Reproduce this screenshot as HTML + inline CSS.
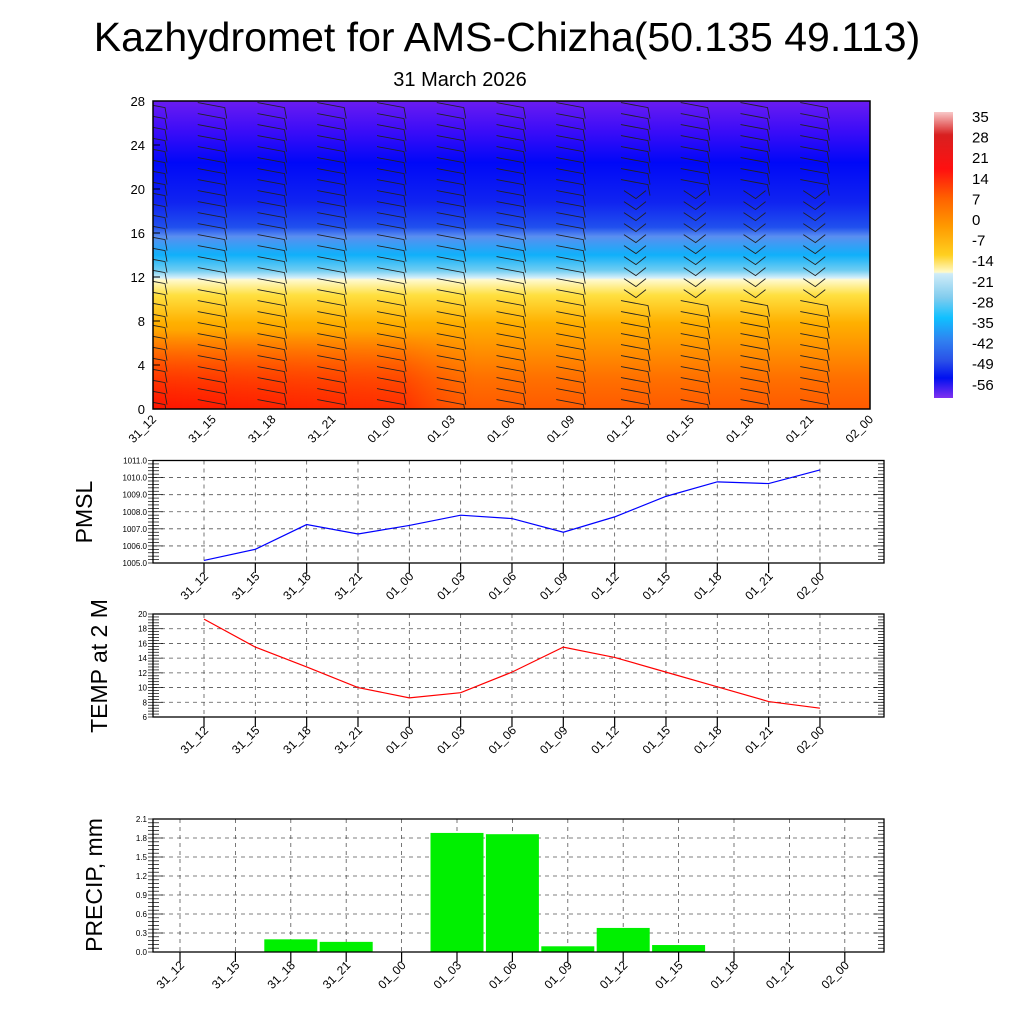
<!DOCTYPE html>
<html><head><meta charset="utf-8"><style>
body{margin:0;background:#fff}
svg text{font-family:"Liberation Sans",sans-serif}
</style></head><body>
<svg id="s" width="1024" height="1024" viewBox="0 0 1024 1024" xmlns="http://www.w3.org/2000/svg">
<defs>
<clipPath id="plotclip"><rect x="153" y="101" width="717" height="308"/></clipPath>
<linearGradient id="vg" x1="0" y1="0" x2="0" y2="1">
<stop offset="0" stop-color="#6a1cf2"/>
<stop offset="0.1" stop-color="#3a0cf8"/>
<stop offset="0.2" stop-color="#0008f8"/>
<stop offset="0.33" stop-color="#1024f0"/>
<stop offset="0.41" stop-color="#2050ee"/>
<stop offset="0.44" stop-color="#5a8ef0"/>
<stop offset="0.5" stop-color="#10b0fa"/>
<stop offset="0.55" stop-color="#70cdf2"/>
<stop offset="0.575" stop-color="#d8f0fa"/>
<stop offset="0.58" stop-color="#fffad0"/>
<stop offset="0.63" stop-color="#ffe040"/>
<stop offset="0.72" stop-color="#ffb000"/>
<stop offset="0.82" stop-color="#ff8c00"/>
<stop offset="0.9" stop-color="#ff7000"/>
<stop offset="1" stop-color="#ff5a00"/>
</linearGradient>
<linearGradient id="hg" x1="0" y1="0" x2="1" y2="0">
<stop offset="0" stop-color="#ff1400" stop-opacity="1"/>
<stop offset="0.35" stop-color="#ff2800" stop-opacity="0.85"/>
<stop offset="0.45" stop-color="#ff5000" stop-opacity="0"/>
<stop offset="1" stop-color="#ff5000" stop-opacity="0"/>
</linearGradient>
<linearGradient id="hgv" x1="0" y1="0" x2="0" y2="1">
<stop offset="0" stop-color="#fff" stop-opacity="0"/>
<stop offset="1" stop-color="#fff" stop-opacity="1"/>
</linearGradient>
<mask id="m"><rect x="153" y="330" width="717" height="79" fill="url(#hgv)"/></mask>
<linearGradient id="cb" x1="0" y1="0" x2="0" y2="1">
<stop offset="0" stop-color="#f8c8c8"/>
<stop offset="0.08" stop-color="#d82020"/>
<stop offset="0.2" stop-color="#ff1010"/>
<stop offset="0.3" stop-color="#ff6000"/>
<stop offset="0.4" stop-color="#ff9a00"/>
<stop offset="0.5" stop-color="#ffd020"/>
<stop offset="0.56" stop-color="#fffac8"/>
<stop offset="0.565" stop-color="#d0ecf8"/>
<stop offset="0.65" stop-color="#80ccee"/>
<stop offset="0.72" stop-color="#10c0ff"/>
<stop offset="0.8" stop-color="#3080f0"/>
<stop offset="0.87" stop-color="#2a50e8"/>
<stop offset="0.93" stop-color="#0010f0"/>
<stop offset="1" stop-color="#8030f0"/>
</linearGradient>
</defs>
<text x="507" y="51" font-size="41" text-anchor="middle">Kazhydromet for AMS-Chizha(50.135 49.113)</text>
<text x="460" y="86" font-size="20" text-anchor="middle">31 March 2026</text>
<g>
<rect x="153" y="101" width="717" height="308" fill="url(#vg)"/>
<rect x="153" y="330" width="717" height="79" fill="url(#hg)" mask="url(#m)"/>
<g id="barbs" stroke="#222" stroke-width="0.9" fill="none" clip-path="url(#plotclip)"></g>
<rect x="153" y="101" width="717" height="308" fill="none" stroke="#000" stroke-width="1.5"/>
<g id="topAxes"></g>
</g>
<g>
<rect x="934" y="112" width="19" height="286" fill="url(#cb)"/>
<g id="cbl"></g>
</g>
<g id="pmsl"></g>
<g id="temp"></g>
<g id="prec"></g>
</svg>
<script>
const cats=["31_12","31_15","31_18","31_21","01_00","01_03","01_06","01_09","01_12","01_15","01_18","01_21","02_00"];
const pmslVals=[1005.15,1005.8,1007.25,1006.7,1007.2,1007.8,1007.6,1006.8,1007.7,1008.9,1009.75,1009.65,1010.45];
const pmslTicks=[1005,1006,1007,1008,1009,1010,1011];
const tempVals=[19.3,15.5,12.8,10.0,8.6,9.3,12.1,15.5,14.1,12.1,10.1,8.1,7.2];
const tempTicks=[6,8,10,12,14,16,18,20];
const precVals=[0,0,0.2,0.16,0,1.88,1.86,0.09,0.38,0.11,0,0,0];
const precTicks=[0,0.3,0.6,0.9,1.2,1.5,1.8,2.1];
const heightTicks=[0,4,8,12,16,20,24,28];
const cbLabels=["35","28","21","14","7","0","-7","-14","-21","-28","-35","-42","-49","-56"];
const NS="http://www.w3.org/2000/svg";
function mk(p,tag,at,txt){const e=document.createElementNS(NS,tag);for(const k in at)e.setAttribute(k,at[k]);if(txt!==undefined)e.textContent=txt;p.appendChild(e);return e;}
const ta=document.getElementById('topAxes');
const hx=i=>153+i*59.75, hy=v=>409-v/28*308;
heightTicks.forEach(v=>{
  const t=mk(ta,'text',{x:145,y:hy(v)+5,'font-size':13,'text-anchor':'end'},v);
  
  
  mk(ta,'line',{x1:153,x2:160,y1:hy(v),y2:hy(v),stroke:'#000'});
});
cats.forEach((c,i)=>{
  const x=hx(i);
  const t=mk(ta,'text',{x:x+4,y:420,'font-size':12,'text-anchor':'end',transform:`rotate(-45 ${x+4} 420)`},c);
  
  
});
const bg=document.getElementById('barbs');
for(let i=0;i<12;i++){
  const x=hx(i)+(i>=8?5:0);
  for(let h=0.4;h<28;h+=1.0){
    const y=hy(h);
    const d=(i>=8&&h>10&&h<20)?`M${x-12} ${y-5} L${x} ${y+3} L${x+10} ${y-5}`:`M${x-15} ${y-5} L${x+12} ${y} l2 11`;
    const b=mk(bg,'path',{d:d});
    
    
  }
}
const cbl=document.getElementById('cbl');
cbLabels.forEach((l,i)=>{
  const t=mk(cbl,'text',{x:972,y:122+i*20.6,'font-size':15},l);
  
  
});
function panel(gid,opts){
  const g=document.getElementById(gid);
  const {top,bot,left,right,x0,dx,ticks,vals,fmt,min,max,title,ty,tx,labY,color,bars,tsize}=opts;
  const Y=v=>bot-(v-min)/(max-min)*(bot-top);
  const X=i=>x0+i*dx;
  ticks.forEach(v=>{ if(v>min&&v<max) mk(g,'line',{x1:left,x2:right,y1:Y(v),y2:Y(v),stroke:'#555','stroke-dasharray':'4 4','stroke-width':0.8});});
  cats.forEach((c,i)=>mk(g,'line',{x1:X(i),x2:X(i),y1:top,y2:bot,stroke:'#555','stroke-dasharray':'4 4','stroke-width':0.8}));
  if(bars){
    vals.forEach((v,i)=>{ if(v>0){const r=mk(g,'rect',{x:X(i)-26.5,y:Y(v),width:53,height:bot-Y(v),fill:'#00f000'});
      
      }});
  } else {
    const p=mk(g,'polyline',{points:vals.map((v,i)=>X(i)+','+Y(v)).join(' '),fill:'none',stroke:color,'stroke-width':1.2});
    
    
  }
  mk(g,'rect',{x:left,y:top,width:right-left,height:bot-top,fill:'none',stroke:'#000','stroke-width':1.3});
  const steps=(ticks.length-1)*5;
  for(let k=0;k<=steps;k++){const y=top+(bot-top)*k/steps;const L=k%5==0?10:6;
    mk(g,'line',{x1:left,x2:left+L,y1:y,y2:y,stroke:'#000','stroke-width':0.7});
    mk(g,'line',{x1:right-L,x2:right,y1:y,y2:y,stroke:'#000','stroke-width':0.7});
    mk(g,'line',{x1:left-5,x2:left,y1:y,y2:y,stroke:'#000','stroke-width':0.7});}
  ticks.forEach(v=>{const t=mk(g,'text',{x:left-6,y:Y(v)+3,'font-size':tsize,'text-anchor':'end'},fmt(v));
    
    });
  cats.forEach((c,i)=>{mk(g,'line',{x1:X(i),x2:X(i),y1:bot,y2:bot+10,stroke:'#000','stroke-width':1.2});
    const t=mk(g,'text',{x:X(i)+5,y:labY,'font-size':12,'text-anchor':'end',transform:`rotate(-45 ${X(i)+5} ${labY})`},c);
    
    });
  const tt=mk(g,'text',{x:tx,y:ty,'font-size':23,'text-anchor':'middle',transform:`rotate(-90 ${tx} ${ty})`},title);
  
  
}
panel('pmsl',{top:460.5,bot:563,left:153,right:884,x0:204,dx:51.33,ticks:pmslTicks,vals:pmslVals,fmt:v=>v.toFixed(1),min:1005,max:1011,title:'PMSL',tx:92,ty:512,labY:577,color:'#0000ff',tsize:8});
panel('temp',{top:614,bot:717,left:153,right:884,x0:204,dx:51.33,ticks:tempTicks,vals:tempVals,fmt:v=>v,min:6,max:20,title:'TEMP at 2 M',tx:107,ty:666,labY:731,color:'#ff0000',tsize:8});
panel('prec',{top:819,bot:952,left:153,right:884,x0:180,dx:55.4,ticks:precTicks,vals:precVals,fmt:v=>v.toFixed(1),min:0,max:2.1,title:'PRECIP, mm',tx:102,ty:885,labY:966,bars:true,tsize:8});
</script>
</body></html>
